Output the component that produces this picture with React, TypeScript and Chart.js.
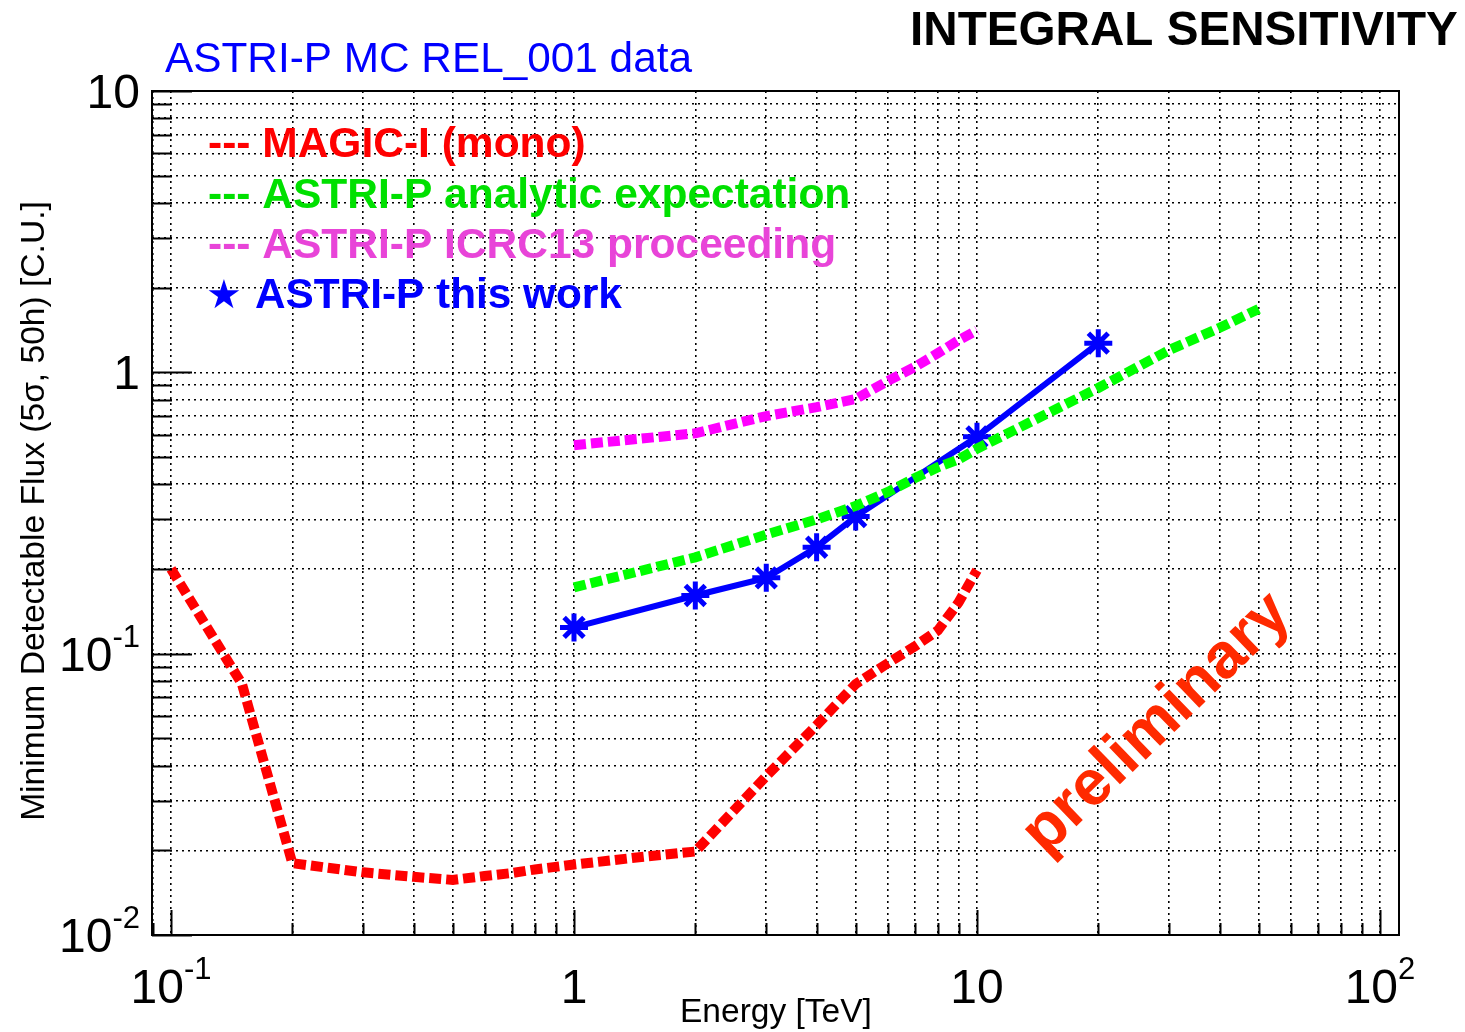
import React, { useEffect, useRef } from 'react';
import { Chart, registerables } from 'chart.js';

Chart.register(...registerables);

// ---------------- data ----------------
const magicEnergy = [0.1, 0.15, 0.2, 0.3, 0.4, 0.5, 0.6, 0.7, 0.8, 1, 1.5, 2, 3, 4, 5, 6, 7, 8, 9, 10];
const magicFlux = [0.2, 0.078, 0.018, 0.0167, 0.0161, 0.0157, 0.0162, 0.0166, 0.0171, 0.0178, 0.019, 0.0198, 0.0367, 0.0557, 0.078, 0.0924, 0.106, 0.121, 0.152, 0.198];

const analyticEnergy = [1, 2, 3, 4, 5, 6, 7, 8, 9, 10, 20, 30, 40, 50];
const analyticFlux = [0.172, 0.22, 0.265, 0.3, 0.335, 0.375, 0.42, 0.46, 0.49, 0.535, 0.88, 1.2, 1.44, 1.68];

const icrcEnergy = [1, 2, 3, 4, 5, 6, 7, 8, 9, 10];
const icrcFlux = [0.551, 0.607, 0.699, 0.752, 0.804, 0.931, 1.044, 1.17, 1.3, 1.41];

const thisWorkEnergy = [1, 2, 3, 4, 5, 10, 20];
const thisWorkFlux = [0.124, 0.161, 0.186, 0.239, 0.307, 0.59, 1.27];

const X_MIN = 0.0897;
const X_MAX = 111.5;
const Y_MIN = 0.01;
const Y_MAX = 10;

const xTickLabels = [
  { value: 0.1, base: '10', exp: '-1' },
  { value: 1, base: '1', exp: '' },
  { value: 10, base: '10', exp: '' },
  { value: 100, base: '10', exp: '2' },
];
const yTickLabels = [
  { value: 0.01, base: '10', exp: '-2' },
  { value: 0.1, base: '10', exp: '-1' },
  { value: 1, base: '1', exp: '' },
  { value: 10, base: '10', exp: '' },
];

const legendItems = [
  { text: '--- MAGIC-I (mono)', color: '#ff0000', marker: '' },
  { text: '--- ASTRI-P analytic expectation', color: '#00e000', marker: '' },
  { text: '--- ASTRI-P ICRC13 proceeding', color: '#e844d8', marker: '' },
  { text: 'ASTRI-P this work', color: '#0000ff', marker: '\u2605' },
];

const plotTitle = 'ASTRI-P MC REL_001 data';
const cornerTitle = 'INTEGRAL SENSITIVITY';
const xAxisTitle = 'Energy [TeV]';
const yAxisTitle = 'Minimum Detectable Flux (5\u03c3, 50h) [C.U.]';
const stampText = 'preliminary';

// grid positions (1..9 per decade)
function decadeGrid(minExp: number, maxExp: number, lo: number, hi: number): number[] {
  const out: number[] = [];
  for (let e = minExp; e <= maxExp; e++) {
    for (let m = 1; m <= 9; m++) {
      const v = parseFloat((m * Math.pow(10, e)).toPrecision(6));
      if (v >= lo - 1e-12 && v <= hi + 1e-12) out.push(v);
    }
  }
  return out;
}
const xGrid = decadeGrid(-2, 2, X_MIN, X_MAX);
const yGrid = decadeGrid(-2, 1, Y_MIN, Y_MAX);

const isDecade = (v: number) => Math.abs(Math.log10(v) - Math.round(Math.log10(v))) < 1e-6;

const FONT = "'Liberation Sans', Arial, Helvetica, sans-serif";

function zip(xs: number[], ys: number[]) {
  return xs.map((x, i) => ({ x, y: ys[i] }));
}

function drawPow(ctx: CanvasRenderingContext2D, base: string, exp: string, x: number, y: number, align: 'center' | 'right', size: number) {
  ctx.font = `${size}px ${FONT}`;
  const wb = ctx.measureText(base).width;
  const es = Math.round(size * 0.65);
  ctx.font = `${es}px ${FONT}`;
  const we = exp ? ctx.measureText(exp).width : 0;
  const total = wb + we;
  const x0 = align === 'center' ? x - total / 2 : x - total;
  ctx.textAlign = 'left';
  ctx.textBaseline = 'alphabetic';
  ctx.font = `${size}px ${FONT}`;
  ctx.fillText(base, x0, y);
  if (exp) {
    ctx.font = `${es}px ${FONT}`;
    ctx.fillText(exp, x0 + wb, y - size * 0.5);
  }
}

function fitFont(ctx: CanvasRenderingContext2D, text: string, weight: string, width: number): number {
  ctx.font = `${weight} 100px ${FONT}`;
  const w = ctx.measureText(text).width;
  return (100 * width) / w;
}

const overlay = {
  id: 'overlay',
  afterDraw(chart: any) {
    const ctx: CanvasRenderingContext2D = chart.ctx;
    const xs = chart.scales.x;
    const ys = chart.scales.y;
    const { left, right, top, bottom } = chart.chartArea;
    ctx.save();
    ctx.setLineDash([]);

    // frame
    ctx.strokeStyle = '#000';
    ctx.lineWidth = 2;
    ctx.strokeRect(left, top, right - left, bottom - top);

    // inward tick marks
    ctx.beginPath();
    for (const v of yGrid) {
      const py = Math.round(ys.getPixelForValue(v)) + 0.5;
      const len = isDecade(v) ? 40 : 20;
      ctx.moveTo(left, py);
      ctx.lineTo(left + len, py);
    }
    for (const v of xGrid) {
      const px = Math.round(xs.getPixelForValue(v)) + 0.5;
      const len = isDecade(v) ? 25 : 12;
      ctx.moveTo(px, bottom);
      ctx.lineTo(px, bottom - len);
    }
    ctx.stroke();

    // tick labels
    ctx.fillStyle = '#000';
    for (const t of xTickLabels) {
      drawPow(ctx, t.base, t.exp, xs.getPixelForValue(t.value), bottom + 68, 'center', 48);
    }
    for (const t of yTickLabels) {
      drawPow(ctx, t.base, t.exp, left - 12, ys.getPixelForValue(t.value) + 17, 'right', 48);
    }

    // axis titles
    ctx.fillStyle = '#000';
    ctx.textAlign = 'left';
    ctx.textBaseline = 'alphabetic';
    ctx.font = `${fitFont(ctx, xAxisTitle, 'normal', 192)}px ${FONT}`;
    ctx.fillText(xAxisTitle, 680, 1022);

    ctx.save();
    ctx.translate(44, 511);
    ctx.rotate(-Math.PI / 2);
    ctx.textAlign = 'center';
    ctx.font = `${fitFont(ctx, yAxisTitle, 'normal', 620)}px ${FONT}`;
    ctx.fillText(yAxisTitle, 0, 0);
    ctx.restore();

    // titles
    ctx.textAlign = 'left';
    ctx.fillStyle = '#0000ff';
    ctx.font = `normal ${fitFont(ctx, plotTitle, 'normal', 527)}px ${FONT}`;
    ctx.fillText(plotTitle, 165, 72);

    ctx.fillStyle = '#000';
    ctx.font = `bold ${fitFont(ctx, cornerTitle, 'bold', 548)}px ${FONT}`;
    ctx.fillText(cornerTitle, 910, 45);

    // legend
    const baselines = [157, 208, 258, 308];
    legendItems.forEach((it, i) => {
      ctx.fillStyle = it.color;
      if (it.marker) {
        ctx.font = `bold 40px 'DejaVu Sans', sans-serif`;
        ctx.fillText(it.marker, 206, baselines[i]);
        ctx.font = `bold ${fitFont(ctx, it.text, 'bold', 367)}px ${FONT}`;
        ctx.fillText(it.text, 255, baselines[i]);
      } else {
        ctx.font = `bold 42.5px ${FONT}`;
        ctx.fillText(it.text, 208, baselines[i]);
      }
    });

    // preliminary stamp
    ctx.save();
    ctx.translate(1157, 724);
    ctx.rotate(-44 * Math.PI / 180);
    ctx.fillStyle = '#ff2a00';
    ctx.textAlign = 'center';
    ctx.textBaseline = 'middle';
    ctx.font = `bold 64px ${FONT}`;
    ctx.fillText(stampText, 0, 0);
    ctx.restore();

    ctx.restore();
  },
};

const dashed = (color: string) => ({
  borderColor: color,
  backgroundColor: color,
  borderWidth: 10,
  borderDash: [12, 5],
  borderCapStyle: 'butt' as const,
  pointRadius: 0,
  tension: 0,
});

export default function App() {
  const ref = useRef<HTMLCanvasElement>(null);
  useEffect(() => {
    const canvas = ref.current;
    if (!canvas) return;
    const chart = new Chart(canvas, {
      type: 'line',
      data: {
        datasets: [
          { label: 'MAGIC-I (mono)', data: zip(magicEnergy, magicFlux), ...dashed('#ff0000') },
          { label: 'ASTRI-P analytic expectation', data: zip(analyticEnergy, analyticFlux), ...dashed('#00ff00') },
          { label: 'ASTRI-P ICRC13 proceeding', data: zip(icrcEnergy, icrcFlux), ...dashed('#ff00ff') },
          {
            label: 'ASTRI-P this work',
            data: zip(thisWorkEnergy, thisWorkFlux),
            borderColor: '#0000ff',
            backgroundColor: '#0000ff',
            borderWidth: 6,
            pointStyle: 'star',
            pointRadius: 14,
            pointBorderWidth: 5,
            pointBorderColor: '#0000ff',
            pointBackgroundColor: '#0000ff',
            tension: 0,
          },
        ],
      },
      options: {
        responsive: false,
        animation: false,
        devicePixelRatio: 1,
        layout: { padding: { left: 152, top: 91, right: 66, bottom: 97 } },
        plugins: {
          legend: { display: false },
          tooltip: { enabled: false },
          title: { display: false },
        },
        scales: {
          x: {
            type: 'logarithmic',
            min: X_MIN,
            max: X_MAX,
            ticks: { display: false },
            grid: { color: '#000', lineWidth: 1.6, drawTicks: false },
            border: { display: false, dash: [2, 4] },
            afterBuildTicks: (s: any) => {
              s.ticks = xGrid.map((v) => ({ value: v }));
            },
          },
          y: {
            type: 'logarithmic',
            min: Y_MIN,
            max: Y_MAX,
            ticks: { display: false },
            grid: { color: '#000', lineWidth: 1.6, drawTicks: false },
            border: { display: false, dash: [2, 4] },
            afterBuildTicks: (s: any) => {
              s.ticks = yGrid.map((v) => ({ value: v }));
            },
          },
        },
      },
      plugins: [overlay],
    });
    return () => chart.destroy();
  }, []);
  return (
    <div style={{ position: 'absolute', left: 0, top: 0, width: 1465, height: 1032, background: '#fff' }}>
      <canvas ref={ref} width={1465} height={1032} style={{ display: 'block', width: 1465, height: 1032 }} />
    </div>
  );
}
